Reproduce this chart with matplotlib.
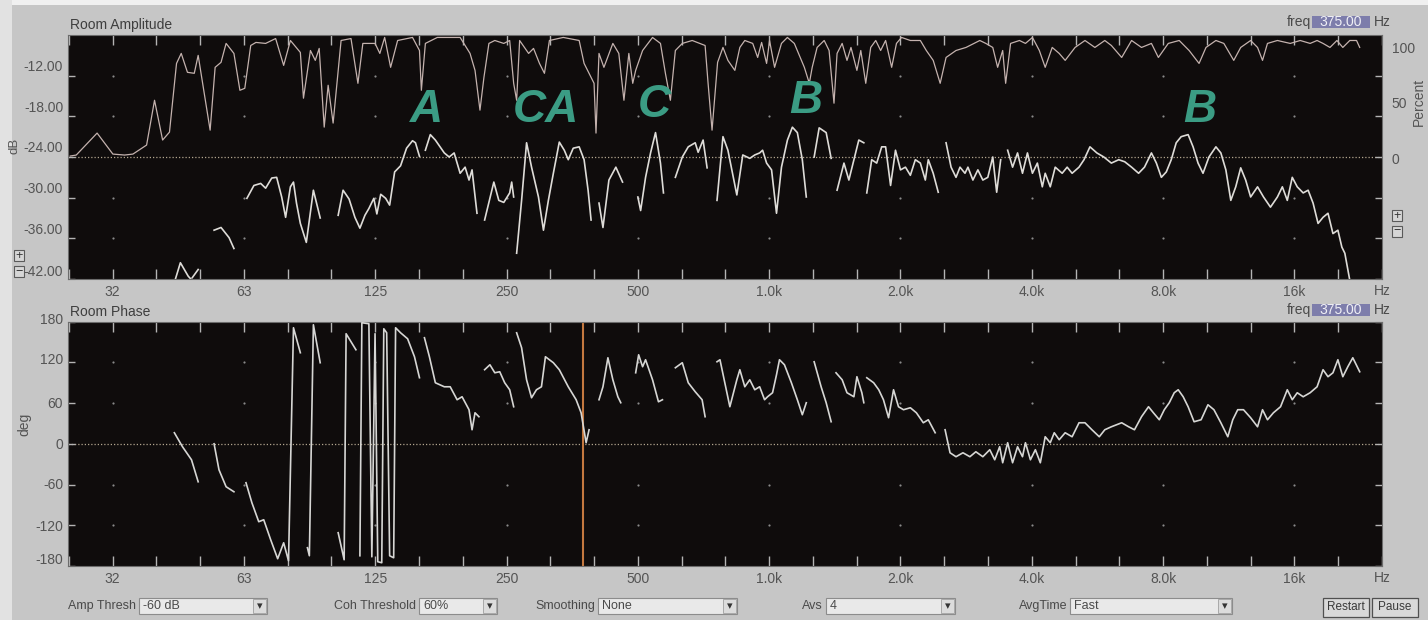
import matplotlib
matplotlib.use("Agg")
import matplotlib.pyplot as plt
import numpy as np
from matplotlib.patches import Rectangle
from matplotlib.ticker import NullFormatter
from matplotlib.transforms import ScaledTranslation

nan = float("nan")

# ---------------- measurement data ----------------
# Room amplitude (dB); nan separates the gated (low-coherence) gaps
amp_freq = [
    43.5, 44.7, 46.6, 47.4, nan,
    47.6, 49.1, nan,
    53.4, 55.4, 57.8, 59.3, nan,
    63.5, 65.9, 68.3, 70.1, 72.4, 74.3, 76.3, 77.9, 79.9, 81.2, 82.5, 84.2, 86.9, 90.2, 93.5, nan,
    102.8, 105.5, 108.9, 112.3, 115.3, 118.4, 120.9, 124.1, 126.1, 128.7, 132.1, 134.9, 138.5, 142.9,
    147.5, 152.2, 154.6, 157.9, nan,
    162.9, 167.2, 171.7, 180.0, 184.7, 189.6, 195.7, 200.9, 205.1, 208.4, 213.9, nan,
    222.7, 233.8, 240.0, 246.4, 254.2, 256.9, 259.6, nan,
    263.7, 270.7, 277.9, 285.3, 295.9, 303.8, 311.8, 320.1, 330.3, 339.1, 346.3, 355.5, 366.8, 376.5,
    384.5, 390.6, nan,
    407.3, 415.9, 429.2, 445.2, 461.2, nan,
    500.0, 507.4, 520.8, 534.7, 548.9, 563.4, 572.4, nan,
    609.5, 632.2, 652.4, 676.8, 687.4, 705.6, 720.6, nan,
    759.3, 783.6, 804.3, 843.1, 870.0, 902.7, 926.7, 951.0, 966.0, 986.5, 1012.7, 1039.5, 1067.1,
    1101.2, 1130.3, 1160.4, 1191.2, 1216.4, nan,
    1268, 1302, 1351, 1387, nan,
    1431, 1484, 1523, 1564, 1605, 1648, nan,
    1674, 1718, 1764, 1811, 1849, 1898, 1948, 2000, 2053, 2107, 2163, 2221, 2280, 2316, 2377, 2441, nan,
    2544, 2612, 2681, 2738, 2811, 2855, 2931, 3009, 3089, 3171, 3255, 3323, 3394, nan,
    3521, 3614, 3710, 3808, 3909, 4013, 4119, 4228, 4293, 4409, 4526, 4695, 4820, 4948, 5132, 5269,
    5437, 5639, 5850, 6087, 6328, 6531, 6773, 7028, 7250, 7521, 7720, 7925, 8135, 8350, 8572, 8799,
    9128, 9370, 9619, 9874, 10189, 10570, 10850, 11140, 11434, 11736, 12048, 12367, 12696, 13168,
    13590, 14098, 14622, 15010, 15407, 15816, 16237, 16754, 17198, 17653, 18123, 18606, 19099,
    19605, 20123, 20549, 20875, 21429,
]
amp_db = [
    -42.1, -39.6, -41.6, -42.1, nan,
    -41.8, -40.6, nan,
    -34.8, -34.4, -35.9, -37.5, nan,
    -30.1, -28.2, -27.9, -28.6, -27.1, -27.0, -29.9, -32.9, -28.4, -27.7, -30.8, -33.8, -36.6, -28.9, -33.0, nan,
    -32.6, -28.9, -30.2, -32.9, -34.5, -32.6, -31.6, -30.1, -32.4, -29.5, -30.1, -31.1, -26.2, -25.3,
    -22.7, -21.6, -21.9, -23.9, nan,
    -23.0, -20.7, -21.5, -23.4, -24.0, -23.4, -26.4, -25.5, -27.4, -25.9, -32.3, nan,
    -33.3, -27.7, -30.4, -30.7, -29.3, -27.7, -29.9, nan,
    -38.2, -30.4, -21.9, -25.5, -29.9, -34.8, -30.4, -26.4, -21.8, -23.0, -24.4, -22.7, -22.5, -24.4,
    -28.9, -33.3, nan,
    -30.8, -34.4, -27.4, -25.5, -27.7, nan,
    -29.9, -31.9, -27.0, -23.4, -20.4, -24.9, -29.3, nan,
    -27.0, -24.0, -22.5, -21.9, -23.3, -21.5, -25.6, nan,
    -30.4, -21.0, -23.0, -29.6, -23.7, -24.2, -23.7, -23.4, -23.0, -24.9, -25.9, -32.3, -25.5,
    -21.5, -19.6, -20.4, -24.4, -29.9, nan,
    -24.0, -19.7, -20.4, -24.2, nan,
    -28.9, -24.9, -27.4, -24.4, -21.5, -21.9, nan,
    -29.3, -24.4, -24.9, -22.5, -22.5, -28.2, -23.0, -25.9, -25.5, -26.7, -24.4, -24.9, -27.4, -24.4, -26.4, -29.2, nan,
    -21.9, -25.5, -27.0, -25.5, -26.4, -25.5, -27.4, -25.9, -27.4, -27.0, -24.0, -29.2, -24.4, nan,
    -23.0, -25.5, -23.4, -26.4, -23.4, -26.4, -24.9, -28.4, -26.4, -28.4, -25.5, -26.4, -25.5, -26.4, -25.5, -24.4,
    -22.5, -23.4, -24.0, -24.9, -24.4, -24.7, -25.5, -26.4, -25.5, -23.4, -24.9, -27.0, -26.2, -24.4, -21.9, -21.0,
    -20.7, -22.5, -24.9, -26.4, -24.0, -22.5, -23.4, -25.9, -30.4, -28.4, -25.6, -27.4, -29.9, -28.4,
    -29.9, -31.4, -29.9, -28.4, -30.4, -27.0, -28.4, -29.3, -28.9, -30.8, -33.8, -32.9, -32.3,
    -35.3, -34.8, -37.3, -38.2, -42.2,
]

# Coherence (percent, right-hand scale)
coh_freq = [
    25.0, 25.8, 28.8, 31.3, 33.3, 34.8, 37.4, 39.0, 40.7, 42.2,
    43.8, 44.9, 46.4, 48.1, 49.1, 52.3, 53.7, 55.4, 56.9, 59.3,
    61.2, 62.8, 64.8, 66.6, 70.1, 73.9, 77.1, 79.9, 84.2, 85.6,
    88.8, 91.1, 93.0, 95.5, 97.5, 100.1, 104.4, 110.0, 114.1, 117.1,
    124.9, 128.1, 131.4, 135.6, 140.7, 152.2, 157.9, 159.5, 162.9, 173.5,
    195.7, 206.2, 211.7, 217.3, 221.9, 227.8, 235.0, 246.4, 254.2, 259.6,
    263.7, 267.9, 280.9, 288.3, 297.5, 305.4, 313.5, 337.3, 366.8, 376.5,
    396.8, 400.9, 407.3, 418.0, 438.2, 452.2, 464.6, 476.8, 486.7, 494.3,
    512.7, 540.3, 563.4, 578.3, 593.7, 609.5, 632.2, 666.2, 713.1, 724.4,
    739.7, 761.7, 783.6, 804.3, 834.3, 856.6, 879.3, 916.8, 941.1, 961.0,
    986.5, 1002, 1029, 1067, 1101, 1142, 1204, 1236, 1255, 1288,
    1337, 1372, 1408, 1431, 1470, 1508, 1540, 1589, 1622, 1665,
    1709, 1755, 1801, 1849, 1909, 1958, 2011, 2107, 2221, 2292,
    2377, 2466, 2544, 2681, 2826, 3040, 3138, 3255, 3340, 3430,
    3484, 3576, 3748, 3868, 4013, 4162, 4293, 4455, 4622, 4770,
    5026, 5296, 5580, 5880, 6087, 6428, 6773, 7137, 7521, 7802,
    8221, 8708, 9176, 9670, 10031, 10570, 11022, 11614, 12048, 12696,
    13168, 13518, 13876, 14622, 15649, 16493, 17381, 18030, 18606, 19299,
    20021, 20654, 21429, 22205, 22579,
]
coh_pct = [
    0.8, 1.6, 19.6, 2.4, 1.6, 2.4, 9.8, 46.5, 13.9, 20.4,
    76.7, 84.9, 69.4, 68.6, 83.3, 22.0, 73.5, 77.6, 93.1, 84.9,
    54.7, 56.3, 91.4, 93.9, 93.1, 97.1, 75.1, 95.5, 85.7, 48.2,
    87.3, 79.2, 89.0, 24.5, 58.8, 27.8, 95.5, 97.1, 60.4, 93.1,
    93.1, 84.9, 98.0, 73.5, 95.5, 98.0, 87.3, 54.7, 93.1, 98.0,
    98.0, 84.9, 71.0, 38.4, 65.3, 93.1, 95.5, 93.1, 95.5, 60.4,
    46.5, 95.5, 84.9, 89.0, 76.7, 68.6, 95.5, 98.0, 95.5, 76.7,
    60.4, 19.6, 84.9, 73.5, 93.1, 84.9, 46.5, 84.9, 60.4, 71.0,
    87.3, 98.0, 93.1, 68.6, 46.5, 87.3, 93.1, 95.5, 91.4, 60.4,
    22.0, 77.6, 89.8, 79.2, 71.0, 89.8, 95.5, 93.1, 81.6, 93.9,
    76.7, 95.5, 73.5, 93.1, 98.0, 93.1, 73.5, 60.4, 73.5, 89.8,
    95.5, 87.3, 44.1, 84.9, 93.1, 79.2, 89.8, 71.0, 87.3, 60.4,
    89.8, 95.5, 87.3, 95.5, 73.5, 93.1, 98.0, 95.5, 95.5, 87.3,
    79.2, 60.4, 81.6, 87.3, 89.8, 95.5, 93.1, 89.8, 73.5, 87.3,
    60.4, 93.1, 95.5, 93.1, 98.0, 87.3, 73.5, 89.8, 84.9, 79.2,
    89.8, 95.5, 89.8, 95.5, 91.4, 81.6, 95.5, 89.8, 93.1, 81.6,
    93.1, 95.5, 87.3, 76.7, 89.8, 95.5, 93.1, 79.2, 89.8, 95.5,
    89.8, 79.2, 93.1, 95.5, 93.1, 95.5, 93.1, 95.5, 93.1, 89.8,
    95.5, 89.8, 95.5, 95.5, 89.8,
]

# Room phase (degrees, wrapped)
phase_freq = [
    43.3, 45.2, 47.4, 49.1, nan,
    53.4, 54.8, 56.9, 59.3, nan,
    63.2, 65.2, 67.6, 69.4, 72.0, 74.7, 77.1, 79.1, 81.2, 84.2, nan,
    87.4, 88.3, 90.2, 93.5, nan,
    102.8, 106.1, 107.2, 112.9, nan,
    115.3, 116.5, 120.9, 122.8, 124.9, 126.7, 129.4, 130.8, 132.8, 134.9, 137.8, 139.2, 142.9, 148.3,
    153.8, 157.9, nan,
    162.1, 166.4, 171.7, 180.0, 185.7, 192.6, 197.7, 205.1, 208.4, 211.7, 216.1, nan,
    222.7, 229.0, 235.0, 241.2, 247.6, 254.2, 259.6, nan,
    263.7, 270.7, 277.9, 285.3, 292.8, 300.6, 307.0, 320.1, 330.3, 346.3, 361.0, 370.6, 380.5, 386.5, nan,
    407.3, 415.9, 426.9, 438.2, 449.9, 456.9, nan,
    494.3, 502.1, 512.7, 520.8, 540.3, 557.5, 569.3, nan,
    609.5, 632.2, 652.4, 676.8, 701.9, 713.1, nan,
    759.3, 771.3, 812.6, 843.1, 856.6, 879.3, 902.7, 926.7, 951.0, 976.0, 991.6, 1018, 1039.5, 1055.9,
    1084, 1124.5, 1160.4, 1191.2, 1216.4, nan,
    1268, 1315.5, 1351, 1387, nan,
    1423, 1470, 1508, 1564, 1589, 1631, 1648, nan,
    1674, 1736, 1783, 1828, 1878, 1928, 1979, 2032, 2107, 2175, 2256, 2316, 2402, nan,
    2531, 2598, 2681, 2781, 2885, 2977, 3089, 3204, 3289, 3376, 3430, 3521, 3614, 3710, 3808, 3868,
    3971, 4076, 4184, 4293, 4409, 4503, 4622, 4770, 4948, 5132, 5296, 5494, 5711, 5880, 6087, 6428,
    6668, 6877, 7137, 7406, 7600, 7840, 8050, 8264, 8483, 8663, 8893, 9128, 9420, 9774, 10135,
    10460, 10850, 11254, 11553, 11860, 12226, 12696, 13168, 13518, 13876, 14318, 14867, 15407,
    15816, 16237, 16754, 17381, 18030, 18606, 19099, 19605, 20123, 20654, 21206, 21770, 22579,
]
phase_deg = [
    16.2, -4.4, -23.6, -56.0, nan,
    0.0, -38.3, -63.3, -70.7, nan,
    -57.4, -86.9, -114.8, -111.9, -141.4, -169.3, -145.8, -172.3, 170.8, 134.0, nan,
    -153.1, -164.9, 175.2, 119.3, nan,
    -131.0, -170.8, 162.0, 138.4, nan,
    -164.9, 178.2, 176.7, -166.4, 162.0, -173.7, -175.2, 169.3, 163.4, -164.9, -167.9, 170.8, 163.4, 154.6,
    128.1, 97.2, nan,
    156.1, 128.1, 89.8, 83.9, 83.9, 64.8, 69.2, 50.1, 20.6, 45.6, 39.8, nan,
    109.0, 116.3, 104.5, 106.0, 89.8, 79.5, 54.5, nan,
    163.4, 141.4, 94.2, 67.7, 79.5, 83.9, 128.1, 119.3, 109.0, 83.9, 64.8, 45.6, 1.5, 20.6, nan,
    64.8, 83.9, 126.6, 94.2, 69.2, 60.4, nan,
    104.5, 131.0, 113.4, 123.7, 94.2, 61.8, 64.8, nan,
    111.9, 119.3, 89.8, 76.6, 64.8, 39.8, nan,
    120.7, 123.7, 54.5, 94.2, 109.0, 83.9, 94.2, 79.5, 83.9, 64.8, 69.2, 75.1, 101.6, 123.7,
    116.3, 89.8, 64.8, 42.7, 60.4, nan,
    120.7, 83.9, 60.4, 32.4, nan,
    104.5, 94.2, 75.1, 69.2, 98.7, 75.1, 60.4, nan,
    97.2, 89.8, 79.5, 64.8, 38.3, 79.5, 54.5, 50.1, 53.0, 45.6, 30.9, 35.3, 16.2, nan,
    20.6, -13.3, -19.1, -13.3, -19.1, -11.8, -19.1, -8.8, -23.6, -4.4, -28.0, 1.5, -28.0, -4.4, -19.1, 1.5,
    -23.6, -8.8, -28.0, 10.3, 1.5, 16.2, 5.9, 16.2, 10.3, 30.9, 30.9, 20.6, 10.3, 20.6, 25.0, 30.9,
    25.0, 20.6, 39.8, 54.5, 45.6, 35.3, 50.1, 60.4, 75.1, 79.5, 69.2, 54.5, 32.4, 35.3, 57.4,
    50.1, 30.9, 10.3, 35.3, 50.1, 50.1, 38.3, 25.0, 50.1, 35.3, 45.6, 54.5, 79.5,
    64.8, 75.1, 69.2, 75.1, 83.9, 109.0, 98.7, 104.5, 123.7, 98.7, 113.4, 126.6, 106.0,
]

# Axis scales and labels
octave_freqs = [31.25, 62.5, 125, 250, 500, 1000, 2000, 4000, 8000, 16000]
octave_labels = ["32", "63", "125", "250", "500", "1.0k", "2.0k", "4.0k", "8.0k", "16k"]
db_ticks = [-42, -36, -30, -24, -18, -12]
db_labels = ["-42.00", "-36.00", "-30.00", "-24.00", "-18.00", "-12.00"]
pct_ticks = [0, 50, 100]
pct_labels = ["0", "50", "100"]
phase_ticks = [-180, -120, -60, 0, 60, 120, 180]
phase_labels = ["-180", "-120", "-60", "0", "60", "120", "180"]

# Mode annotations on the amplitude trace
marker_text = ["A", "CA", "C", "B", "B"]
marker_freq = [164, 307, 546, 1216, 9720]
marker_db = [-17.0, -17.0, -16.3, -15.7, -17.0]

cursor_freq = 375.0

# ---------------- styling ----------------
plt.rcParams["font.family"] = ["Liberation Sans", "DejaVu Sans"]
plt.rcParams["axes.unicode_minus"] = False

W, H = 1428, 620
fig = plt.figure(figsize=(W / 100, H / 100), dpi=100)
fig.patch.set_facecolor("#c6c6c6")

PLOT_BG = "#0f0c0c"
TICK_C = "#b4b4b4"
LABEL_C = "#545454"
TEXT_C = "#3e3e3e"
AMP_C = "#dedcd8"
COH_C = "#c4b2ae"
PHASE_C = "#d6d6d4"
DOT_C = "#8a8a8a"
LETTER_C = "#3b9c84"


def fx(px):
    return px / W


def fy(py):
    return 1 - py / H


def box(left, top, right, bottom):
    return [fx(left), fy(bottom), fx(right) - fx(left), fy(top) - fy(bottom)]


def fig_rect(x0, y0, x1, y1, face, edge="none", lw=0.8, z=0):
    fig.add_artist(Rectangle((fx(x0), fy(y1)), fx(x1) - fx(x0), fy(y0) - fy(y1),
                             transform=fig.transFigure, facecolor=face,
                             edgecolor=edge, linewidth=lw, zorder=z))


def fig_text(x, y, s, **kw):
    kw.setdefault("fontsize", 10)
    kw.setdefault("color", TEXT_C)
    kw.setdefault("va", "center")
    fig.text(fx(x), fy(y), s, **kw)


def shift_labels(labels, dys):
    for lab, dy in zip(labels, dys):
        lab.set_transform(lab.get_transform() + ScaledTranslation(0, dy / 100, fig.dpi_scale_trans))


# window edges
fig_rect(0, 0, W, 5, "#f0f0f0")
fig_rect(0, 0, 12, H, "#e2e2e2")

third_octaves = [31.25 * 2 ** (k / 3) for k in range(-1, 30) if k % 3]


def setup_freq_axis(ax):
    ax.set_facecolor(PLOT_BG)
    ax.set_xscale("log", base=2)
    ax.set_xlim(24.7, 24000)
    ax.set_xticks(octave_freqs)
    ax.set_xticklabels(octave_labels)
    ax.set_xticks(third_octaves, minor=True)
    ax.xaxis.set_minor_formatter(NullFormatter())
    ax.tick_params(axis="x", which="both", direction="in", top=True, bottom=True,
                   length=7, width=1.0, color=TICK_C, labelsize=10,
                   labelcolor=LABEL_C, pad=4)
    ax.tick_params(axis="y", which="both", direction="in", left=True, right=True,
                   length=5, width=1.0, color=TICK_C, labelsize=10,
                   labelcolor=LABEL_C, pad=3.5)
    for sp in ax.spines.values():
        sp.set_color("#6c6c6c")
        sp.set_linewidth(0.8)
    ax.annotate("Hz", xy=(1, 0), xycoords="axes fraction", xytext=(0, -12),
                textcoords="offset pixels", ha="center", va="center",
                fontsize=10, color=LABEL_C)


# ---------------- amplitude / coherence panel ----------------
ax_amp = fig.add_axes(box(68, 35, 1382, 279))
setup_freq_axis(ax_amp)
ax_amp.set_ylim(-42, -6)
ax_amp.set_yticks(db_ticks)
ax_amp.set_yticklabels(db_labels)

gx, gy = np.meshgrid(octave_freqs, [t for t in db_ticks if t not in (-42, -24)])
ax_amp.scatter(gx.ravel(), gy.ravel(), s=2.5, color=DOT_C, linewidths=0, zorder=1)
ax_amp.axhline(-24, color="#b2a58e", lw=0.9, ls=(0, (1, 1.6)), zorder=1)
ax_amp.plot(amp_freq, amp_db, color=AMP_C, lw=1.2, solid_joinstyle="round", zorder=4)

ax_coh = ax_amp.twinx()
ax_coh.set_ylim(-100, 100)
ax_coh.set_yticks(pct_ticks)
ax_coh.set_yticklabels(pct_labels)
ax_coh.tick_params(axis="y", length=0, labelsize=10, labelcolor=LABEL_C, pad=7)
for sp in ax_coh.spines.values():
    sp.set_visible(False)
ax_coh.plot(coh_freq, coh_pct, color=COH_C, lw=0.9, solid_joinstyle="round", zorder=3)
ax_amp.tick_params(axis="y", right=True, labelright=False)

for s, f, d in zip(marker_text, marker_freq, marker_db):
    ax_coh.text(f, d, s, transform=ax_amp.transData, ha="center", va="center",
                fontsize=33, fontweight="bold", fontstyle="italic", color=LETTER_C, zorder=6)

shift_labels(ax_amp.get_yticklabels(), [9, 10, 10, 10, 10, 10])
shift_labels(ax_coh.get_yticklabels(), [-2, -7, -12.5])

fig_text(70, 25, "Room Amplitude", ha="left")
fig_text(14, 146, "dB", rotation=90, ha="center", fontsize=9.5, color=LABEL_C)
fig_text(1419, 102, "Percent", rotation=90, ha="center", fontsize=10, color=LABEL_C)

# ---------------- phase panel ----------------
ax_ph = fig.add_axes(box(68, 321.5, 1382, 566))
setup_freq_axis(ax_ph)
ax_ph.set_ylim(-180, 180)
ax_ph.set_yticks(phase_ticks)
ax_ph.set_yticklabels(phase_labels)

gx, gy = np.meshgrid(octave_freqs, [-120, -60, 60, 120])
ax_ph.scatter(gx.ravel(), gy.ravel(), s=2.5, color=DOT_C, linewidths=0, zorder=1)
ax_ph.axhline(0, color="#b2a58e", lw=0.9, ls=(0, (1, 1.6)), zorder=1)
ax_ph.axvline(cursor_freq, color="#c4783f", lw=1.5, zorder=2)
ax_ph.plot(phase_freq, phase_deg, color=PHASE_C, lw=1.2, solid_joinstyle="round", zorder=4)
shift_labels(ax_ph.get_yticklabels(), [7, 0, 1, 0, 1, 4, 3])

fig_text(70, 312, "Room Phase", ha="left")
fig_text(24, 424, "deg", rotation=90, ha="center", fontsize=10, color=LABEL_C)


# ---------------- cursor read-outs ----------------
def freq_readout(yc):
    fig_text(1299, yc, "freq", ha="center", color="#4a4a4a")
    fig_rect(1312, yc - 6, 1370, yc + 6, "#7d7dab")
    fig_text(1341, yc, f"{cursor_freq:.2f}", ha="center", color="#f0f0f6")
    fig_text(1382, yc, "Hz", ha="center", color="#4a4a4a")


freq_readout(22)
freq_readout(310)


# ---------------- zoom buttons ----------------
def zoom_buttons(x0, y0):
    for k, sym in enumerate(["+", "\u2212"]):
        top = y0 + k * 16
        fig_rect(x0, top, x0 + 10, top + 11, "#d6d6d6", "#5a5a5a", 0.8)
        fig_text(x0 + 5, top + 5.5, sym, ha="center", fontsize=9, color="#333333")


zoom_buttons(14, 250)
zoom_buttons(1392, 210)

# ---------------- control strip ----------------
controls = [
    ("Amp Thresh", "-60 dB", 139, 267),
    ("Coh Threshold", "60%", 419, 497),
    ("Smoothing", "None", 598, 737),
    ("Avs", "4", 826, 955),
    ("AvgTime", "Fast", 1070, 1232),
]
for name, value, x0, x1 in controls:
    fig_text(x0 - 3, 606, name, ha="right", fontsize=9, color="#4a4a4a")
    fig_rect(x0, 598, x1, 614, "#e9e9e9", "#8c8c8c", 0.8)
    fig_text(x0 + 4, 606, value, ha="left", fontsize=9, color="#4a4a4a")
    fig_rect(x1 - 14, 599, x1 - 1, 613, "#dcdcdc", "#a0a0a0", 0.6)
    fig_text(x1 - 7.5, 606, "\u25be", ha="center", fontsize=8, color="#333333")

for label, x0, x1 in [("Restart", 1323, 1369), ("Pause", 1372, 1418)]:
    fig_rect(x0, 598, x1, 617, "#d9d9d9", "#505050", 0.9)
    fig_text((x0 + x1) / 2, 607.5, label, ha="center", fontsize=8.5, color="#3a3a3a")

fig.savefig("out.png", dpi=100, facecolor=fig.get_facecolor())
